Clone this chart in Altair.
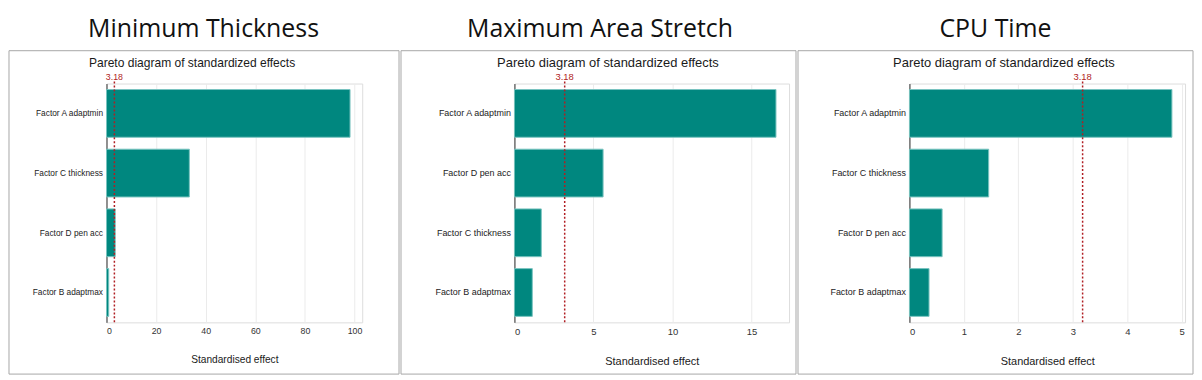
import altair as alt
import pandas as pd

# ---- data ----
panel_titles = ["Minimum Thickness", "Maximum Area Stretch", "CPU Time"]
inner_title = "Pareto diagram of standardized effects"
axis_title = "Standardised effect"

factors_min_thick = ["Factor A adaptmin", "Factor C thickness", "Factor D pen acc", "Factor B adaptmax"]
effects_min_thick = [98.2, 33.4, 3.5, 0.9]

factors_area = ["Factor A adaptmin", "Factor D pen acc", "Factor C thickness", "Factor B adaptmax"]
effects_area = [16.55, 5.61, 1.70, 1.13]

factors_cpu = ["Factor A adaptmin", "Factor C thickness", "Factor D pen acc", "Factor B adaptmax"]
effects_cpu = [4.82, 1.455, 0.60, 0.36]

critical_value = 3.18
critical_label = "3.18"

ticks_min_thick = [0, 20, 40, 60, 80, 100]
ticks_area = [0, 5, 10, 15]
ticks_cpu = [0, 1, 2, 3, 4, 5]

BAR = "#00877f"
BAR_EDGE = "#79c4bf"
RED = "#b01e23"
FONT = "Liberation Sans"
PLOT_H = 240


def panel(title, factors, effects, ticks, width, box, s):
    xmax = max(effects) * 1.05
    df = pd.DataFrame({"factor": factors, "effect": effects})
    xenc = alt.X(
        "effect:Q",
        scale=alt.Scale(domain=[0, xmax], nice=False, zero=True),
        axis=alt.Axis(
            values=ticks, title=axis_title, grid=True, gridColor="#ebebeb",
            gridWidth=1, domain=False, ticks=False, labelPadding=4,
            labelFontSize=9.5 * s, labelColor="#333333", labelFont=FONT,
            titleFont=FONT, titleFontSize=11 * s, titleFontWeight="normal",
            titleColor="#1a1a1a", titlePadding=20, format="d",
        ),
    )
    yenc = alt.Y(
        "factor:N", sort=factors,
        scale=alt.Scale(paddingInner=0.2, paddingOuter=0.1),
        axis=alt.Axis(
            title=None, domain=True, domainColor="#333333", domainWidth=1,
            ticks=False, labelPadding=4, labelFontSize=9 * s,
            labelColor="#222222", labelFont=FONT, grid=False,
        ),
    )
    bars = alt.Chart(df).mark_bar(
        color=BAR, stroke=BAR_EDGE, strokeWidth=1
    ).encode(x=xenc, y=yenc)

    crit = pd.DataFrame({"v": [critical_value], "lab": [critical_label]})
    rule = alt.Chart(crit).mark_rule(
        color=RED, strokeDash=[2, 2], strokeWidth=1.5
    ).encode(x="v:Q", y=alt.value(-2), y2=alt.value(PLOT_H))
    lab = alt.Chart(crit).mark_text(
        color=RED, font=FONT, fontSize=9.5 * s, baseline="alphabetic"
    ).encode(x="v:Q", y=alt.value(-4), text="lab:N")

    tdf = pd.DataFrame({"t": [inner_title]})
    ttl = alt.Chart(tdf).mark_text(
        font=FONT, fontSize=13 * s, color="#1a1a1a", baseline="alphabetic"
    ).encode(x=alt.value(box["tx"]), y=alt.value(-17), text="t:N")

    frame = alt.Chart(pd.DataFrame({"k": [0]})).mark_rect(
        filled=False, stroke="#a6a6a6", strokeWidth=1
    ).encode(
        x=alt.value(box["x0"]), x2=alt.value(box["x1"]),
        y=alt.value(-33), y2=alt.value(292),
    )

    return alt.layer(frame, bars, rule, lab, ttl).properties(
        width=width, height=PLOT_H,
        title=alt.TitleParams(
            title, fontSize=25, font="Open Sans", fontWeight="normal",
            color="#111111", anchor="middle", offset=8, dx=box["dx"],
        ),
    )


p1 = panel(panel_titles[0], factors_min_thick, effects_min_thick, ticks_min_thick,
           257, {"x0": -98, "x1": 294, "tx": 86, "dx": -31}, 0.93)
p2 = panel(panel_titles[1], factors_area, effects_area, ticks_area,
           276, {"x0": -114, "x1": 283, "tx": 94, "dx": -52}, 1.0)
p3 = panel(panel_titles[2], factors_cpu, effects_cpu, ticks_cpu,
           277, {"x0": -112, "x1": 285, "tx": 95, "dx": -52}, 1.0)

chart = alt.hconcat(p1, p2, p3, spacing=0).properties(
    padding={"left": 0, "top": 8, "right": 0, "bottom": 0}
).configure_view(stroke=None).configure(background="white")

chart.save("out.html", embed_options={"renderer": "svg", "actions": False})
